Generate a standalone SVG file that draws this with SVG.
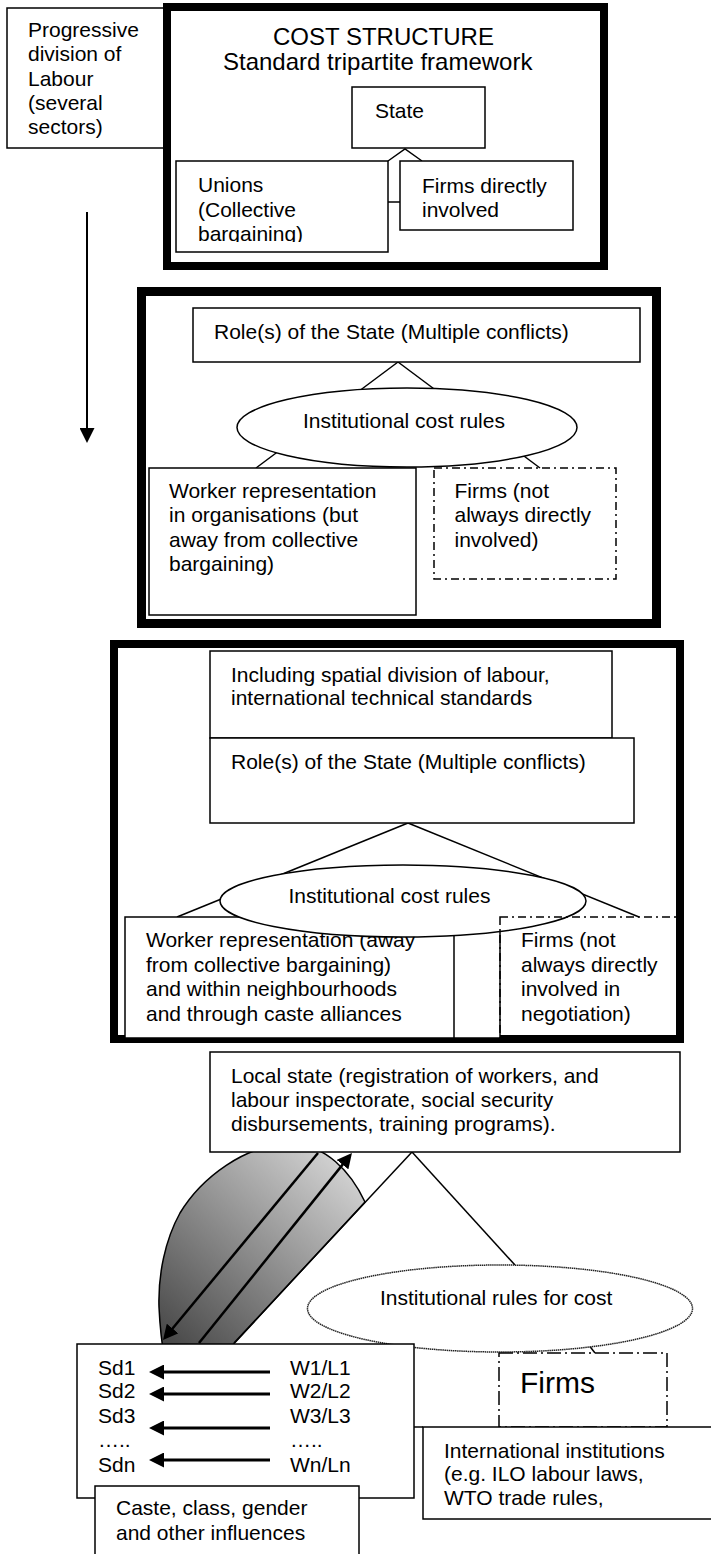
<svg xmlns="http://www.w3.org/2000/svg" width="711" height="1554" viewBox="0 0 711 1554">
<defs>
<style>
text{font-family:"Liberation Sans",Arial,sans-serif;font-size:21px;fill:#000}
.title{font-size:24px}
.big{font-size:30px}
.b{fill:#fff;stroke:#000;stroke-width:1.5}
.frame{fill:none;stroke:#000;stroke-width:8}
.dd{fill:none;stroke:#000;stroke-width:1.5;stroke-dasharray:8 4 2 4}
.dd2{fill:none;stroke:#000;stroke-width:1.5;stroke-dasharray:14 4 2 4}
.e{fill:#fff;stroke:#000;stroke-width:1.5}
.ed{fill:#fff;stroke:#222;stroke-width:1.5;stroke-dasharray:1.5 0.6}
.c{fill:none;stroke:#000;stroke-width:1.5}
.a{fill:none;stroke:#000;stroke-width:3;marker-end:url(#ah)}
.a2{fill:none;stroke:#000;stroke-width:2.5;marker-end:url(#ah)}
.a1{fill:none;stroke:#000;stroke-width:2;marker-end:url(#ah)}
</style>
<marker id="ah" viewBox="0 0 15 15" refX="2" refY="7.5" markerWidth="15" markerHeight="15" markerUnits="userSpaceOnUse" orient="auto">
<path d="M0,0 L15,7.5 L0,15 Z" fill="#000"/>
</marker>
<linearGradient id="gray" gradientUnits="userSpaceOnUse" x1="340" y1="1160" x2="175" y2="1345">
<stop offset="0" stop-color="#d2d2d2"/>
<stop offset="1" stop-color="#4a4a4a"/>
</linearGradient>
<clipPath id="unionsClip"><rect x="176" y="161" width="212" height="81"/></clipPath>
</defs>

<!-- frames -->
<g id="progressive">
<rect class="b" x="7" y="8" width="158" height="140"/>
<text x="28" y="37">Progressive</text>
<text x="28" y="61.3">division of</text>
<text x="28" y="85.6">Labour</text>
<text x="28" y="110">(several</text>
<text x="28" y="134.3">sectors)</text>
</g>
<g id="frame1">
<rect class="frame" x="167" y="7" width="437" height="259"/>
<text class="title" x="273" y="45">COST STRUCTURE</text>
<text class="title" x="223" y="69.5">Standard tripartite framework</text>
</g>
<g id="frame2"><rect class="frame" x="141.5" y="291.5" width="515" height="332" style="stroke-width:9"/></g>
<g id="frame3"><rect class="frame" x="114" y="644" width="566" height="395"/></g>

<g id="channel">
<path d="M365,1202 C350,1170 325,1146 295,1144 C245,1142 200,1180 180,1213 C165,1240 158,1275 159,1307 C160,1330 162,1345 165,1362 L217,1362 Z" fill="url(#gray)" stroke="#000" stroke-width="1.5"/>
</g>

<g id="connectors">
<polyline class="c" points="388,161 405,149 422,161"/>
<line class="c" x1="388" y1="202" x2="400" y2="202"/>
<line class="a1" x1="87" y1="212" x2="87" y2="430"/>
<line class="c" x1="398" y1="362" x2="256" y2="468"/>
<line class="c" x1="398" y1="362" x2="540" y2="468"/>
<line class="c" x1="408" y1="823" x2="177" y2="917"/>
<line class="c" x1="408" y1="823" x2="639" y2="917"/>
<line class="c" x1="412" y1="1152" x2="234" y2="1343"/>
<line class="c" x1="412" y1="1152" x2="515" y2="1265"/>
<line class="a2" x1="318" y1="1153" x2="171.3" y2="1330"/>
<line class="a2" x1="199" y1="1343" x2="343.8" y2="1163.1"/>
<line class="c" x1="588" y1="1344" x2="595" y2="1353"/>
<line class="c" x1="414" y1="1427" x2="423" y2="1427"/>
</g>

<!-- section 1 -->
<g id="state1">
<rect class="b" x="352" y="87" width="133" height="61"/>
<text x="375" y="118">State</text>
</g>
<g id="unions">
<rect class="b" x="176" y="161" width="212" height="91"/>
<g clip-path="url(#unionsClip)">
<text x="198" y="191.7">Unions</text>
<text x="198" y="216.5">(Collective</text>
<text x="198" y="241">bargaining)</text>
</g>
</g>
<g id="firms1">
<rect class="b" x="400" y="161" width="173" height="69"/>
<text x="422" y="192.5">Firms directly</text>
<text x="422" y="216.5">involved</text>
</g>

<!-- section 2 -->
<g id="state2">
<rect class="b" x="193" y="308" width="447" height="54"/>
<text x="214" y="339">Role(s) of the State (Multiple conflicts)</text>
</g>
<g id="workers2">
<rect class="b" x="149" y="468" width="267" height="147"/>
<text x="169" y="497.5">Worker representation</text>
<text x="169" y="522">in organisations (but</text>
<text x="169" y="546.5">away from collective</text>
<text x="169" y="571">bargaining)</text>
</g>
<g id="rules2">
<ellipse class="e" cx="407" cy="427.5" rx="170" ry="39.5"/>
<text x="303" y="428">Institutional cost rules</text>
</g>
<g id="firms2">
<rect class="dd" x="434" y="468" width="182" height="111"/>
<text x="454.5" y="497.5">Firms (not</text>
<text x="454.5" y="522">always directly</text>
<text x="454.5" y="546.5">involved)</text>
</g>

<!-- section 3 -->
<g id="spatial">
<rect class="b" x="210" y="651" width="402" height="87"/>
<text x="231" y="681.7">Including spatial division of labour,</text>
<text x="231" y="705">international technical standards</text>
</g>
<g id="state3">
<rect class="b" x="210" y="738" width="424" height="85"/>
<text x="231" y="769">Role(s) of the State (Multiple conflicts)</text>
</g>
<g id="workers3">
<rect class="b" x="125" y="917" width="375" height="121"/>
<line class="c" x1="454" y1="917" x2="454" y2="1038"/>
<text x="146" y="947">Worker representation (away</text>
<text x="146" y="971.5">from collective bargaining)</text>
<text x="146" y="996">and within neighbourhoods</text>
<text x="146" y="1020.5">and through caste alliances</text>
</g>
<g id="rules3">
<ellipse class="e" cx="403" cy="901" rx="183" ry="36"/>
<text x="288.5" y="903">Institutional cost rules</text>
</g>
<g id="firms3">
<rect class="dd" x="500" y="917" width="180" height="121"/>
<text x="521" y="947">Firms (not</text>
<text x="521" y="971.5">always directly</text>
<text x="521" y="996">involved in</text>
<text x="521" y="1020.5">negotiation)</text>
</g>

<!-- section 4 -->
<g id="localstate">
<rect class="b" x="210" y="1052" width="470" height="100"/>
<text x="231" y="1083">Local state (registration of workers, and</text>
<text x="231" y="1107">labour inspectorate, social security</text>
<text x="231" y="1131">disbursements, training programs).</text>
</g>
<g id="rules4">
<ellipse class="ed" cx="500" cy="1308.5" rx="192.5" ry="43.5"/>
<text x="380" y="1305">Institutional rules for cost</text>
</g>
<g id="firms4">
<rect class="dd2" x="499" y="1353" width="168" height="74"/>
<text class="big" x="520" y="1393">Firms</text>
</g>
<g id="international">
<rect class="b" x="423" y="1427" width="300" height="92"/>
<text x="444" y="1458">International institutions</text>
<text x="444" y="1481">(e.g. ILO labour laws,</text>
<text x="444" y="1505">WTO trade rules,</text>
</g>
<g id="sd">
<rect class="b" x="77" y="1344" width="337" height="154"/>
<text x="98" y="1375">Sd1</text>
<text x="98" y="1398">Sd2</text>
<text x="98" y="1423">Sd3</text>
<text x="98" y="1447">…..</text>
<text x="98" y="1472">Sdn</text>
<text x="290" y="1375">W1/L1</text>
<text x="290" y="1398">W2/L2</text>
<text x="290" y="1423">W3/L3</text>
<text x="290" y="1447">…..</text>
<text x="290" y="1472">Wn/Ln</text>
<line class="a" x1="270" y1="1372" x2="162" y2="1372"/>
<line class="a" x1="270" y1="1394" x2="162" y2="1394"/>
<line class="a" x1="270" y1="1428" x2="162" y2="1428"/>
<line class="a" x1="270" y1="1460" x2="162" y2="1460"/>
</g>
<g id="caste">
<rect class="b" x="95" y="1486" width="264" height="80"/>
<text x="116" y="1515">Caste, class, gender</text>
<text x="116" y="1540">and other influences</text>
</g>
</svg>
